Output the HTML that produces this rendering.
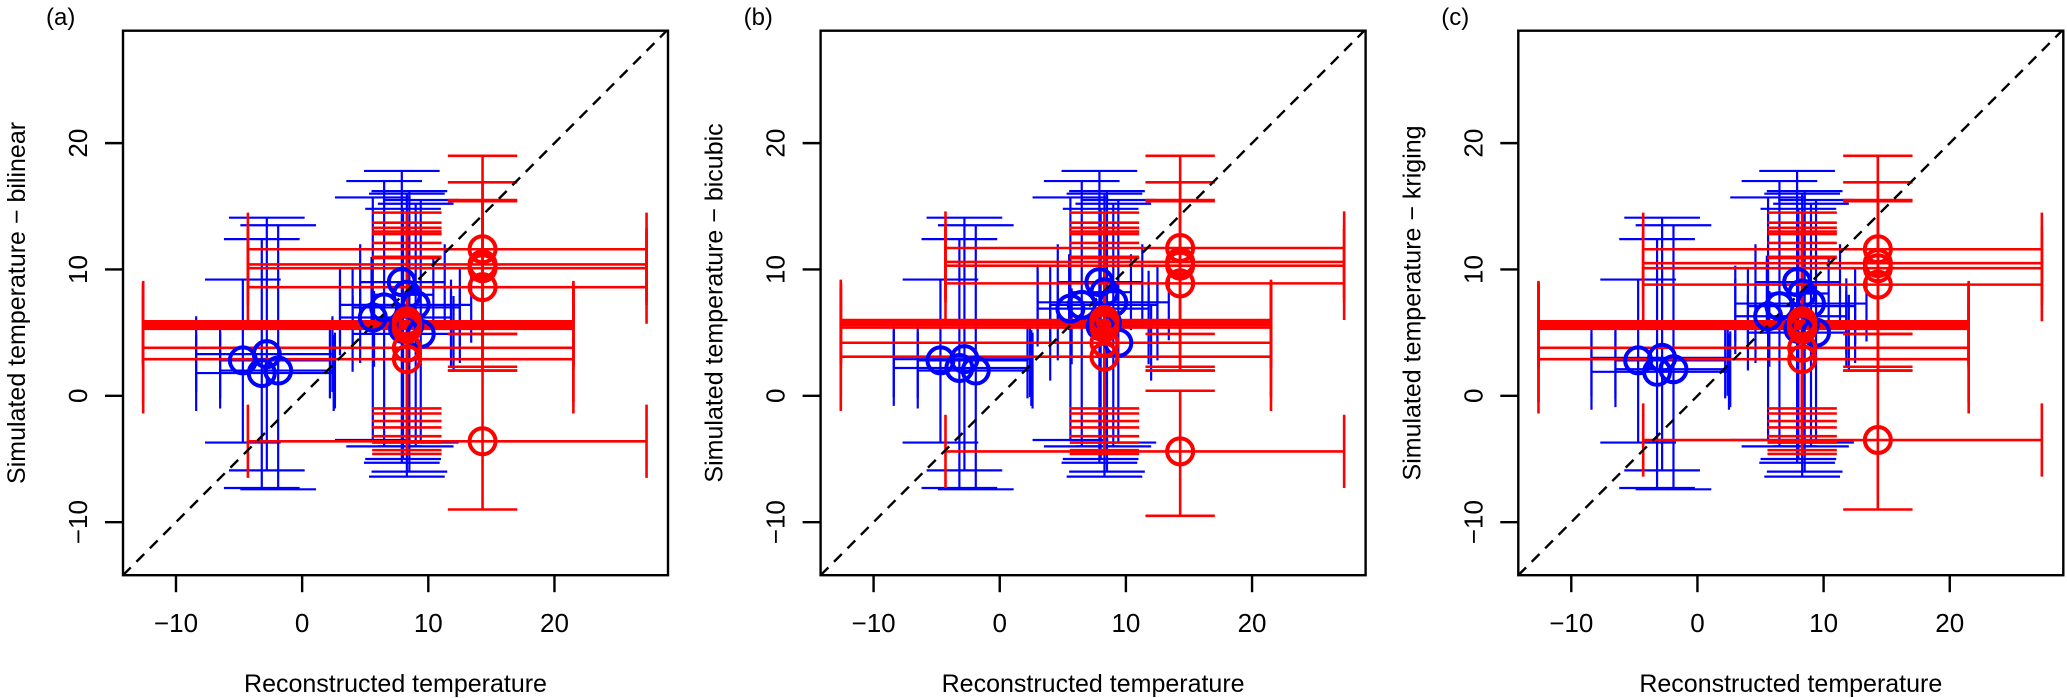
<!DOCTYPE html>
<html><head><meta charset="utf-8">
<style>
html,body{margin:0;padding:0;background:#fff;}
svg{display:block;}
text{font-family:"Liberation Sans",Arial,sans-serif;fill:#000;}
</style></head>
<body>
<svg id="chart" width="2067" height="698" viewBox="0 0 2067 698" xmlns="http://www.w3.org/2000/svg"></svg>
<script>
// ---- data (temperature units) ----
const panelLabels = ["(a)", "(b)", "(c)"];
const methodNames = ["bilinear", "bicubic", "kriging"];
const xTicks = [-10, 0, 10, 20];
const yTicks = [-10, 0, 10, 20];

// blue series
const blueX    = [-4.7, -2.8, -3.2, -1.9, 5.6, 6.5, 7.9, 8.3, 9.0, 9.4, 8.0, 8.5];
const blueXlo  = [-6.5, -8.4, -8.4, -6.5, 3.0, 4.0, 4.6, 5.5, 3.0, 4.0, 5.7, 4.6];
const blueXhi  = [2.2, 2.4, 2.5, 2.6, 11.8, 12.5, 11.3, 10.4, 13.4, 12.0, 11.8, 12.5];
const blueYlo  = [-3.7, -5.9, -7.3, -7.4, -3.5, -4.0, -5.3, -6.4, -4.0, -3.7, -5.0, -6.0];
const blueYhi  = [9.2, 14.1, 12.4, 13.5, 15.7, 17.0, 17.8, 16.0, 15.2, 15.5, 14.8, 16.2];
const blueYa   = [2.8, 3.3, 1.8, 2.0, 6.2, 7.0, 9.0, 8.0, 7.2, 4.9, 5.3, 5.6];
const blueYb   = [2.8, 2.9, 2.2, 2.0, 6.9, 7.2, 9.0, 8.2, 7.4, 4.2, 5.5, 5.8];
const blueYc   = [2.8, 3.0, 1.9, 2.1, 6.3, 7.1, 9.0, 8.1, 7.3, 5.0, 5.3, 5.6];

// red series
const redX     = [14.3, 14.3, 14.3, 14.3, 14.3, 8.3, 8.3, 8.3, 8.3, 8.3, 8.3, 8.3, 8.3];
const redXlo   = [-4.3, -4.3, -4.3, -4.3, -4.3, -12.6, -12.6, -12.6, -12.6, -12.6, -12.6, -12.6, -12.6];
const redXhi   = [27.3, 27.3, 27.3, 27.3, 27.3, 21.5, 21.5, 21.5, 21.5, 21.5, 21.5, 21.5, 21.5];
const redYlo   = [2.0, 2.3, 4.9, 2.0, -9.0, -1.4, -2.0, -2.5, -3.2, -3.7, -4.3, -4.6, -1.0];
const redYhi   = [19.0, 16.9, 15.4, 15.5, 4.9, 13.7, 13.3, 13.0, 12.8, 14.5, 12.1, 10.9, 11.0];
const redYa    = [11.6, 10.4, 10.1, 8.6, -3.6, 5.3, 5.5, 5.6, 5.8, 5.9, 5.7, 3.8, 2.9];
const redYb    = [11.7, 10.6, 10.3, 8.9, -4.4, 5.4, 5.6, 5.7, 5.9, 6.0, 5.8, 4.2, 3.1];
const redYc    = [11.6, 10.5, 10.1, 8.8, -3.5, 5.3, 5.5, 5.6, 5.8, 5.9, 5.7, 3.8, 2.9];
const redYloB  = [2.0, 2.3, 4.9, 2.0, -9.5, -1.4, -2.0, -2.5, -3.2, -3.7, -4.3, -4.6, -1.0];
const redYhiB  = [19.0, 16.9, 15.4, 15.5, 0.4, 13.7, 13.3, 13.0, 12.8, 14.5, 12.1, 10.9, 11.0];
const redCapY  = [2.9, 2.9, 2.9, 2.9, 2.9, 3.2, 3.2, 3.2, 3.2, 3.2, 3.2, 4.3, 4.3];

const blueYs = [blueYa, blueYb, blueYc];
const redYs = [redYa, redYb, redYc];
const redYlos = [redYlo, redYloB, redYlo];
const redYhis = [redYhi, redYhiB, redYhi];

// ---- layout ----
const NS = "http://www.w3.org/2000/svg";
const svg = document.getElementById("chart");
const xMin = -14.2, xMax = 29.0, yMin = -14.2, yMax = 28.9;
const boxW = 545, boxTop = 30.7, boxBot = 575.2;
const panelLeft = [123, 820.6, 1518.3];

function mk(tag, attrs, parent) {
  const e = document.createElementNS(NS, tag);
  for (const k in attrs) e.setAttribute(k, attrs[k]);
  (parent || svg).appendChild(e);
  return e;
}

panelLabels.forEach((lab, p) => {
  const L = panelLeft[p];
  const sx = v => L + (v - xMin) / (xMax - xMin) * boxW;
  const sy = v => boxBot - (v - yMin) / (yMax - yMin) * (boxBot - boxTop);
  const g = mk("g", {});
  
  

  const cp = mk("clipPath", {id: "clip" + p}, g);
  mk("rect", {x: L, y: boxTop, width: boxW, height: boxBot - boxTop}, cp);

  const t = mk("text", {x: L - 77, y: 25, "font-size": 24}, g);
  t.textContent = lab;
  
  

  const plot = mk("g", {"clip-path": "url(#clip" + p + ")"}, g);
  
  

  function bars(xs, ys, xlo, xhi, ylo, yhi, color, capX, capYs, sw, name) {
    for (let i = 0; i < xs.length; i++) {
      const capY = capYs[i];
      const eg = mk("g", {stroke: color, "stroke-width": sw, fill: "none"}, plot);
      
      
      mk("line", {x1: sx(xs[i]), x2: sx(xs[i]), y1: sy(ylo[i]), y2: sy(yhi[i])}, eg);
      mk("line", {x1: sx(xs[i] - capX), x2: sx(xs[i] + capX), y1: sy(ylo[i]), y2: sy(ylo[i])}, eg);
      mk("line", {x1: sx(xs[i] - capX), x2: sx(xs[i] + capX), y1: sy(yhi[i]), y2: sy(yhi[i])}, eg);
      mk("line", {x1: sx(xlo[i]), x2: sx(xhi[i]), y1: sy(ys[i]), y2: sy(ys[i])}, eg);
      mk("line", {x1: sx(xlo[i]), x2: sx(xlo[i]), y1: sy(ys[i] - capY), y2: sy(ys[i] + capY)}, eg);
      mk("line", {x1: sx(xhi[i]), x2: sx(xhi[i]), y1: sy(ys[i] - capY), y2: sy(ys[i] + capY)}, eg);
    }
  }
  function pts(xs, ys, color, name) {
    for (let i = 0; i < xs.length; i++) {
      const c = mk("circle", {cx: sx(xs[i]), cy: sy(ys[i]), r: 13, fill: "none", stroke: color, "stroke-width": 4}, plot);
      
      
    }
  }
  const bY = blueYs[p], rY = redYs[p];
  bars(blueX, bY, blueXlo, blueXhi, blueYlo, blueYhi, "#0000ff", 3.0, blueX.map(() => 3.0), 2.2, "blue");
  bars(redX, rY, redXlo, redXhi, redYlos[p], redYhis[p], "#ff0000", 2.75, redCapY, 2.6, "red");

  const d = mk("line", {x1: sx(xMin), y1: sy(xMin), x2: sx(yMax), y2: sy(yMax), stroke: "#000", "stroke-width": 2.4, "stroke-dasharray": "11,8"}, plot);
  
  

  pts(blueX, bY, "#0000ff", "blue");
  pts(redX, rY, "#ff0000", "red");

  const box = mk("rect", {x: L, y: boxTop, width: boxW, height: boxBot - boxTop, fill: "none", stroke: "#000", "stroke-width": 2.4}, g);
  
  

  xTicks.forEach(v => {
    const tk = mk("line", {x1: sx(v), x2: sx(v), y1: boxBot, y2: boxBot + 17, stroke: "#000", "stroke-width": 2.4}, g);
    
    
    const tl = mk("text", {x: sx(v), y: 632, "font-size": 26, "text-anchor": "middle"}, g);
    tl.textContent = v < 0 ? "\u2212" + Math.abs(v) : String(v);
    
    
  });
  yTicks.forEach(v => {
    const tk = mk("line", {x1: L - 18, x2: L, y1: sy(v), y2: sy(v), stroke: "#000", "stroke-width": 2.4}, g);
    
    
    const xx = L - 36, yy = sy(v);
    const tl = mk("text", {x: xx, y: yy, "font-size": 26, "text-anchor": "middle", transform: "rotate(-90 " + xx + " " + yy + ")"}, g);
    tl.textContent = v < 0 ? "\u2212" + Math.abs(v) : String(v);
    
    
  });
  const xt = mk("text", {x: L + boxW / 2, y: 692, "font-size": 25, "text-anchor": "middle"}, g);
  xt.textContent = "Reconstructed temperature";
  
  
  const yx = L - 98, yyc = (boxTop + boxBot) / 2;
  const yt = mk("text", {x: yx, y: yyc, "font-size": 25, "text-anchor": "middle", transform: "rotate(-90 " + yx + " " + yyc + ")"}, g);
  yt.textContent = "Simulated temperature \u2212 " + methodNames[p];
  
  
});
</script>
</body></html>
